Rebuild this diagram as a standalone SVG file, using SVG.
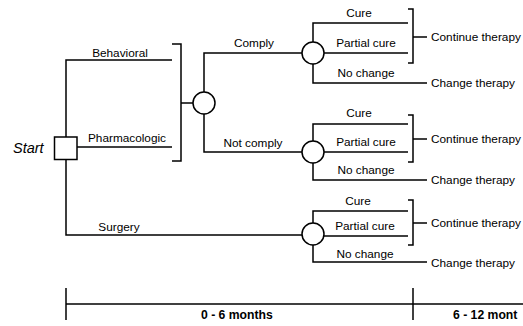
<svg xmlns="http://www.w3.org/2000/svg" width="523" height="326" viewBox="0 0 523 326">
<style>
text{font-family:"Liberation Sans",Arial,sans-serif;font-size:11.8px;fill:#000}
.ln{stroke:#000;stroke-width:1.5;fill:none}
.nd{stroke:#000;stroke-width:1.5;fill:#fff}
.b{font-weight:bold;font-size:12.2px}
.m{text-anchor:middle}
</style>
<rect width="523" height="326" fill="#fff"/>
<g id="connectors" class="ln">
<!-- decision to strategies -->
<path d="M66,137 V60 H172"/>
<path d="M77,147 H172"/>
<path d="M66,159 V235 H302"/>
<!-- bracket to chance node -->
<path d="M172,44 H181 V161 H172"/>
<path d="M181,103 H193"/>
<!-- compliance -->
<path d="M204,92 V53 H302"/>
<path d="M204,114 V152 H302"/>
<!-- subtree 1 -->
<path d="M313,42 V23 H408"/>
<path d="M324,53 H408"/>
<path d="M313,64 V83 H427"/>
<path d="M408,9 H413 V63 H408"/>
<path d="M413,37 H427"/>
<!-- subtree 2 -->
<path d="M313,141 V124 H408"/>
<path d="M324,152 H408"/>
<path d="M313,163 V180 H427"/>
<path d="M408,115 H413 V162 H408"/>
<path d="M413,139 H427"/>
<!-- subtree 3 -->
<path d="M313,223 V211 H408"/>
<path d="M323,236 H408"/>
<path d="M313,245 V262 H427"/>
<path d="M408,200 H413 V245 H408"/>
<path d="M413,223 H427"/>
<!-- timeline -->
<path d="M66,288 V320"/>
<path d="M413,288 V320"/>
<path d="M66,304 H523"/>
</g>
<g id="branch-labels">
<text x="120" y="57" class="m">Behavioral</text>
<text x="127" y="142" class="m">Pharmacologic</text>
<text x="119" y="231" class="m">Surgery</text>
<text x="254" y="47" class="m">Comply</text>
<text x="253" y="147" class="m">Not comply</text>
<text x="359" y="17" class="m">Cure</text>
<text x="366" y="47" class="m">Partial cure</text>
<text x="366" y="77" class="m">No change</text>
<text x="359" y="117" class="m">Cure</text>
<text x="366" y="146" class="m">Partial cure</text>
<text x="366" y="174" class="m">No change</text>
<text x="358" y="205" class="m">Cure</text>
<text x="365" y="230" class="m">Partial cure</text>
<text x="365" y="258" class="m">No change</text>
</g>
<g id="start">
<rect x="54.5" y="137" width="22.5" height="22.5" class="nd"/>
<text x="13" y="153" style="font-style:italic;font-size:14.5px">Start</text>
</g>
<g id="chance-treatment"><circle cx="204" cy="103" r="11" class="nd"/></g>
<g id="chance-comply"><circle cx="313" cy="53" r="11" class="nd"/></g>
<g id="chance-notcomply"><circle cx="313" cy="152" r="11" class="nd"/></g>
<g id="chance-surgery"><circle cx="313" cy="234" r="11" class="nd"/></g>
<g id="outcome-1"><text x="431" y="41">Continue therapy</text></g>
<g id="outcome-2"><text x="431" y="87">Change therapy</text></g>
<g id="outcome-3"><text x="431" y="143">Continue therapy</text></g>
<g id="outcome-4"><text x="431" y="184">Change therapy</text></g>
<g id="outcome-5"><text x="431" y="227">Continue therapy</text></g>
<g id="outcome-6"><text x="431" y="267">Change therapy</text></g>
<g id="timeline-labels">
<text x="201" y="319" class="b">0 - 6 months</text>
<text x="453" y="319" class="b">6 - 12 mont</text>
</g>
</svg>
